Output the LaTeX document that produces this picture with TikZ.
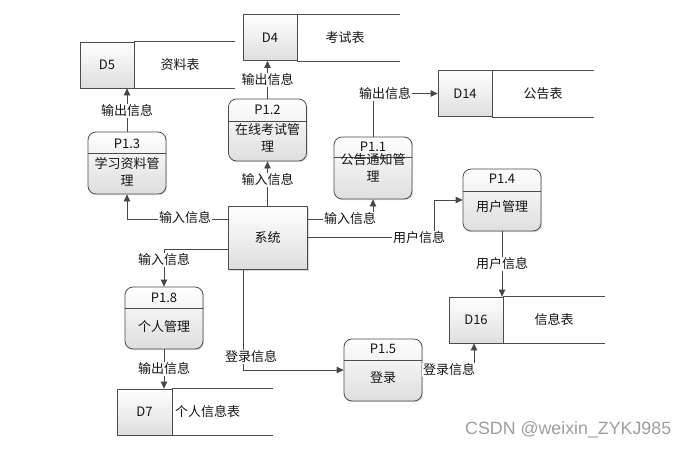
\documentclass[tikz,border=0pt]{standalone}
\usepackage{fontspec}
\setmainfont{Noto Sans CJK SC}
\newfontfamily\wmfont{Liberation Sans}
\usetikzlibrary{arrows.meta,shadows}
\begin{document}
\begin{tikzpicture}[x=1pt,y=-1pt,
  every node/.style={font=\fontsize{13}{17.5}\selectfont, text=black!92},
  box/.style={draw=black!70, line width=0.8pt, top color=white, bottom color=black!13, inner sep=0pt},
  proc/.style={box, rounded corners=8pt, minimum width=78pt, minimum height=62pt,
    drop shadow={shadow xshift=1.2pt,shadow yshift=-1.2pt,opacity=0.25}},
  store/.style={box, minimum width=54pt, minimum height=46pt},
  flow/.style={draw=black!72, line width=0.8pt, -{Triangle[length=7pt,width=6.5pt]}},
  ln/.style={draw=black!70, line width=0.8pt},
  lbl/.style={fill=white, inner sep=1pt},
  body/.style={align=center, inner sep=0pt},
]
\useasboundingbox[fill=white] (0,0) rectangle (693,448);

% ---------- data stores ----------
\node[store] (d5) at (107,65) {D5};
\draw[ln] (d5.north east) -- ++(101,0) (d5.south east) -- ++(101,0);
\node (d5t) at (180,65) {资料表};

\node[store] (d4) at (270,37.5) {D4};
\draw[ln] (d4.north east) -- ++(103,0) (d4.south east) -- ++(103,0);
\node (d4t) at (345,37.5) {考试表};

\node[store] (d14) at (465,93.5) {D14};
\draw[ln] (d14.north east) -- ++(102,0) (d14.south east) -- ++(102,0);
\node (d14t) at (543,93.5) {公告表};

\node[store] (d16) at (476,320) {D16};
\draw[ln] (d16.north east) -- ++(102,0) (d16.south east) -- ++(102,0);
\node (d16t) at (554,320) {信息表};

\node[store, minimum width=55pt] (d7) at (144.5,412) {D7};
\draw[ln] (d7.north east) -- ++(101,0) (d7.south east) -- ++(101,0);
\node (d7t) at (207.5,412) {个人信息表};

% ---------- processes ----------
\node[proc] (p13) at (127,163) {};
\draw[ln] ([yshift=-22pt]p13.north west) -- ([yshift=-22pt]p13.north east);
\node (p13t) at (127,144) {P1.3};
\node[body] (p13b) at (127,172) {学习资料管\\理};

\node[proc] (p12) at (267.5,130) {};
\draw[ln] ([yshift=-23pt]p12.north west) -- ([yshift=-23pt]p12.north east);
\node (p12t) at (267.5,110) {P1.2};
\node[body] (p12b) at (267.5,138) {在线考试管\\理};

\node[proc] (p11) at (373,168) {};
\draw[ln] ([yshift=-21pt]p11.north west) -- ([yshift=-21pt]p11.north east);
\node (p11t) at (373,147) {P1.1};
\node[body] (p11b) at (373,168) {公告通知管\\理};

\node[proc] (p14) at (502,200) {};
\draw[ln] ([yshift=-23pt]p14.north west) -- ([yshift=-23pt]p14.north east);
\node (p14t) at (502,179) {P1.4};
\node (p14b) at (502,207) {用户管理};

\node[proc] (p18) at (164,318) {};
\draw[ln] ([yshift=-22pt]p18.north west) -- ([yshift=-22pt]p18.north east);
\node (p18t) at (164,298) {P1.8};
\node (p18b) at (164,327) {个人管理};

\node[proc] (p15) at (383,370) {};
\draw[ln] ([yshift=-22pt]p15.north west) -- ([yshift=-22pt]p15.north east);
\node (p15t) at (383,349) {P1.5};
\node (p15b) at (383,378) {登录};

% ---------- system ----------
\node[box, minimum width=79pt, minimum height=63pt,
  drop shadow={shadow xshift=1.5pt,shadow yshift=-1.5pt,opacity=0.3}] (sys) at (267.5,237.5) {系统};

% ---------- flows ----------
\coordinate (c7) at (434,200);
\draw[flow] (p13.north) -- (p13.north |- d5.south);
\draw[flow] (p12.north) -- (p12.north |- d4.south);
\draw[flow] (p11.north) |- (d14.west);
\draw[flow] (sys.north -| p12.north) -- (p12.south);
\draw[flow] (sys.west |- 0,219) -| (p13.south);
\draw[flow] (sys.east |- 0,219) -| (p11.south);
\draw[flow] (sys.east) -| (c7) -- (p14.west |- c7);
\draw[flow] (p14.south) -- (p14.south |- d16.north);
\draw[flow] (sys.west |- 0,249) -| (p18.north);
\draw[flow] (p18.south) -- (p18.south |- d7.north);
\draw[flow] (sys.south -| 243,0) |- (p15.west);
\draw[flow] (p15.east) -| ([xshift=-2pt]d16.south);

% ---------- labels ----------
\node[lbl] (l1) at (127,111) {输出信息};
\node[lbl] (l2) at (267.5,80) {输出信息};
\node[lbl] (l3) at (385,94) {输出信息};
\node[lbl] (l4) at (267.5,180) {输入信息};
\node[lbl] (l5) at (185,218) {输入信息};
\node[lbl] (l6) at (350,219) {输入信息};
\node[lbl] (l7) at (419,238) {用户信息};
\node[lbl] (l8) at (502,264) {用户信息};
\node[lbl] (l9) at (164,260) {输入信息};
\node[lbl] (l10) at (164,369) {输出信息};
\node[lbl] (l11) at (251,357) {登录信息};
\node[lbl] (l12) at (449,370) {登录信息};

% ---------- watermark ----------
\node[font=\wmfont\fontsize{17.8}{20}\selectfont, text=black!38, anchor=base west, inner sep=0pt] (wm) at (465,434) {CSDN @weixin\_ZYKJ985};
\end{tikzpicture}
\end{document}
